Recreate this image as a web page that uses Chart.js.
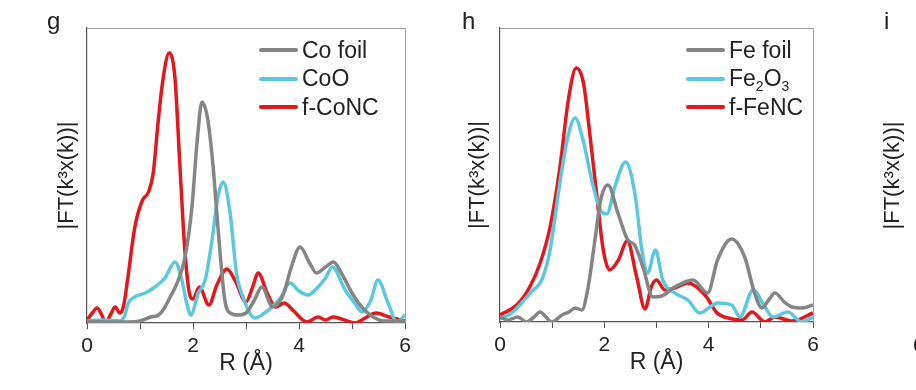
<!DOCTYPE html>
<html>
<head>
<meta charset="utf-8">
<script src="https://cdn.jsdelivr.net/npm/chart.js@4.4.0/dist/chart.umd.min.js"></script>
<style>
    html, body { margin: 0; padding: 0; background: #fff; }
    body { width: 916px; height: 390px; overflow: hidden; position: relative; font-family: "Liberation Sans", Arial, sans-serif; color: #222; }
    .panel { position: absolute; top: 0; }
    .panel canvas { display: block; }
    .tag { position: absolute; top: 9px; font-size: 24px; line-height: 24px; }
    .legend { position: absolute; font-size: 23px; }
    .legend .row { display: flex; align-items: center; height: 28.5px; white-space: nowrap; }
    .legend .ln { display: inline-block; width: 39px; height: 4px; margin-right: 4px; border-radius: 2px; }
    .legend sub { font-size: 14px; vertical-align: -5px; line-height: 0; }
</style>
</head>
<body>

<div class="panel" style="left:0px"><canvas id="ChCo" width="420" height="390"></canvas></div>
<div class="panel" style="left:420px"><canvas id="ChFe" width="420" height="390"></canvas></div>
<div class="panel" style="left:826px"><canvas id="ChI" width="420" height="390"></canvas></div>

<div class="tag" style="left:47px">g</div>
<div class="tag" style="left:462px">h</div>
<div class="tag" style="left:884px">i</div>

<div class="legend" style="left:259px; top:36px">
    <div class="row"><span class="ln" style="background:#858585"></span><span>Co foil</span></div>
    <div class="row"><span class="ln" style="background:#5cc8df"></span><span>CoO</span></div>
    <div class="row"><span class="ln" style="background:#e2181d"></span><span>f-CoNC</span></div>
</div>
<div class="legend" style="left:686px; top:36px">
    <div class="row"><span class="ln" style="background:#858585"></span><span>Fe foil</span></div>
    <div class="row"><span class="ln" style="background:#5cc8df"></span><span>Fe<sub>2</sub>O<sub>3</sub></span></div>
    <div class="row"><span class="ln" style="background:#e2181d"></span><span>f-FeNC</span></div>
</div>

<script>
// R axis (Angstrom)
const rMin = 0;
const rMax = 6;
const rTickLabels = [0, 2, 4, 6];

// panel g - Co
const coFoilR = [0, 0.4, 0.8, 1.0, 1.2, 1.35, 1.45, 1.55, 1.7, 1.85, 1.98, 2.08, 2.17, 2.28, 2.38, 2.47, 2.6, 2.7, 2.85, 3.0, 3.15, 3.3, 3.5, 3.7, 3.85, 4.02, 4.2, 4.33, 4.5, 4.65, 4.8, 5.0, 5.2, 5.4, 5.6, 6.0];
const coFoilY = [2, 1, 1, 2, 6, 8, 14, 24, 40, 66, 116, 183, 221, 203, 156, 96, 23, 10, 8, 10, 22, 36, 16, 28, 55, 76, 60, 50, 56, 61, 50, 30, 15, 6, 2, 2];

const coOR = [0, 0.3, 0.6, 0.7, 0.78, 0.9, 1.1, 1.28, 1.47, 1.66, 1.79, 1.88, 1.96, 2.1, 2.23, 2.36, 2.47, 2.57, 2.7, 2.82, 2.95, 3.17, 3.35, 3.49, 3.65, 3.83, 4.0, 4.17, 4.36, 4.5, 4.63, 4.87, 5.05, 5.19, 5.35, 5.49, 5.68, 5.85, 6.0];
const coOY = [2, 3, 2, 6, 20, 26, 30, 36, 45, 61, 43, 20, 8, 30, 43, 83, 126, 141, 110, 50, 25, 5, 10, 16, 25, 40, 32, 28, 36, 45, 56, 33, 20, 11, 22, 43, 20, 1, 8];

const coNCR = [0, 0.1, 0.19, 0.28, 0.35, 0.45, 0.53, 0.62, 0.69, 0.77, 0.9, 1.04, 1.16, 1.25, 1.34, 1.44, 1.55, 1.66, 1.75, 1.85, 1.94, 2.0, 2.12, 2.3, 2.45, 2.64, 2.8, 3.0, 3.12, 3.23, 3.4, 3.56, 3.72, 3.9, 4.15, 4.36, 4.5, 4.64, 4.8, 5.06, 5.25, 5.45, 5.7, 6.0];
const coNCY = [3, 10, 15, 8, 0, 9, 16, 10, 17, 45, 95, 122, 131, 150, 200, 246, 270, 245, 160, 70, 28, 24, 36, 18, 38, 54, 42, 21, 35, 50, 30, 16, 20, 12, 1, 6, 3, 6, 4, 0, 5, 10, 6, 2];

// panel h - Fe
const feFoilR = [0, 0.15, 0.34, 0.51, 0.65, 0.77, 0.88, 0.99, 1.19, 1.32, 1.44, 1.57, 1.69, 1.82, 1.93, 2.07, 2.26, 2.45, 2.58, 2.74, 2.93, 3.1, 3.35, 3.7, 3.98, 4.17, 4.44, 4.69, 4.88, 5.02, 5.15, 5.27, 5.45, 5.6, 5.8, 6.0];
const feFoilY = [5, 2, 5, 0, 5, 10, 5, 0, 7, 10, 14, 12, 35, 82, 122, 137, 109, 82, 77, 55, 25, 26, 35, 42, 29, 62, 83, 65, 29, 14, 22, 29, 20, 15, 14, 17];

const fe2O3R = [0, 0.2, 0.38, 0.6, 0.8, 0.96, 1.15, 1.3, 1.44, 1.6, 1.78, 1.95, 2.05, 2.2, 2.41, 2.59, 2.72, 2.83, 2.98, 3.12, 3.35, 3.6, 3.83, 4.0, 4.17, 4.44, 4.6, 4.85, 5.08, 5.23, 5.52, 5.78, 6.0];
const fe2O3Y = [4, 8, 17, 30, 42, 72, 140, 185, 204, 180, 137, 110, 108, 135, 160, 127, 72, 49, 72, 42, 29, 22, 9, 14, 19, 17, 5, 32, 15, 5, 10, 0, 5];

const feNCR = [0, 0.32, 0.57, 0.77, 0.96, 1.15, 1.31, 1.46, 1.6, 1.72, 1.85, 1.98, 2.1, 2.27, 2.44, 2.62, 2.78, 2.9, 3.0, 3.16, 3.35, 3.6, 3.93, 4.16, 4.37, 4.64, 4.83, 5.08, 5.27, 5.6, 6.0];
const feNCY = [7, 17, 35, 59, 95, 155, 222, 254, 239, 189, 129, 72, 52, 62, 81, 45, 13, 35, 42, 32, 34, 39, 27, 9, 4, 2, 10, 0, 5, 1, 9];

const FONT = '"Liberation Sans", Arial, sans-serif';
const GRAY = '#858585';
const CYAN = '#5cc8df';
const RED = '#e2181d';

const ToPoints = (xs, ys) => xs.map((x, i) => ({ x: x, y: ys[i] }));

// top + right frame of the plot box
const BoxPlugin = {
    id: 'box',
    afterDraw: (chart) => {
        const { ctx, chartArea } = chart;
        ctx.save();
        ctx.strokeStyle = '#a0a0a0';
        ctx.lineWidth = 1;
        ctx.beginPath();
        ctx.moveTo(chartArea.left, chartArea.top + 0.5);
        ctx.lineTo(chartArea.right + 0.5, chartArea.top + 0.5);
        ctx.lineTo(chartArea.right + 0.5, chartArea.bottom);
        ctx.stroke();
        ctx.restore();
    }
};

const MakePanel = (id, series, geo) => {
    var ctx = document.getElementById(id);
    return new Chart(ctx, {
        type: 'line',
        data: {
            datasets: series.map((s) => ({
                label: s.label,
                data: ToPoints(s.r, s.y),
                borderColor: s.color,
                borderWidth: 3.5,
                pointRadius: 0,
                fill: false,
                cubicInterpolationMode: 'monotone'
            }))
        },
        options: {
            responsive: false,
            animation: false,
            events: [],
            layout: {
                padding: { left: geo.padLeft, right: geo.padRight, top: 28, bottom: geo.padBottom }
            },
            plugins: {
                legend: { display: false },
                tooltip: { enabled: false }
            },
            scales: {
                x: {
                    type: 'linear',
                    min: rMin,
                    max: rMax,
                    ticks: {
                        stepSize: 1,
                        autoSkip: false,
                        maxRotation: 0,
                        padding: 5,
                        color: '#222',
                        font: { size: 21, family: FONT },
                        callback: (v) => rTickLabels.includes(v) ? String(v) : ''
                    },
                    grid: { drawOnChartArea: false, drawTicks: true, tickLength: 6, color: '#555' },
                    border: { display: true, color: '#555', width: 1.2 },
                    title: { display: true, text: 'R (Å)', color: '#222', padding: 0, font: { size: 23, family: FONT } },
                    afterFit: (scale) => { scale.height = 54; }
                },
                y: {
                    min: 0,
                    max: geo.yMax,
                    ticks: { display: false },
                    grid: { display: false },
                    border: { display: true, color: '#555', width: 1.2 },
                    title: { display: true, text: '|FT(k³x(k))|', color: '#222', padding: 0, font: { size: 22, family: FONT } },
                    afterFit: (scale) => { scale.width = geo.axisWidth; }
                }
            }
        },
        plugins: [BoxPlugin]
    });
};

MakePanel('ChCo', [
    { label: 'Co foil', r: coFoilR, y: coFoilY, color: GRAY },
    { label: 'CoO', r: coOR, y: coOY, color: CYAN },
    { label: 'f-CoNC', r: coNCR, y: coNCY, color: RED }
], { padLeft: 54, axisWidth: 33, padRight: 15, padBottom: 13, yMax: 295 });

MakePanel('ChFe', [
    { label: 'Fe foil', r: feFoilR, y: feFoilY, color: GRAY },
    { label: 'Fe2O3', r: fe2O3R, y: fe2O3Y, color: CYAN },
    { label: 'f-FeNC', r: feNCR, y: feNCY, color: RED }
], { padLeft: 45, axisWidth: 35, padRight: 27, padBottom: 14, yMax: 294 });

// panel i is cut off at the edge of the figure
MakePanel('ChI', [], { padLeft: 54, axisWidth: 39, padRight: 15, padBottom: 13, yMax: 295 });
</script>
</body>
</html>
